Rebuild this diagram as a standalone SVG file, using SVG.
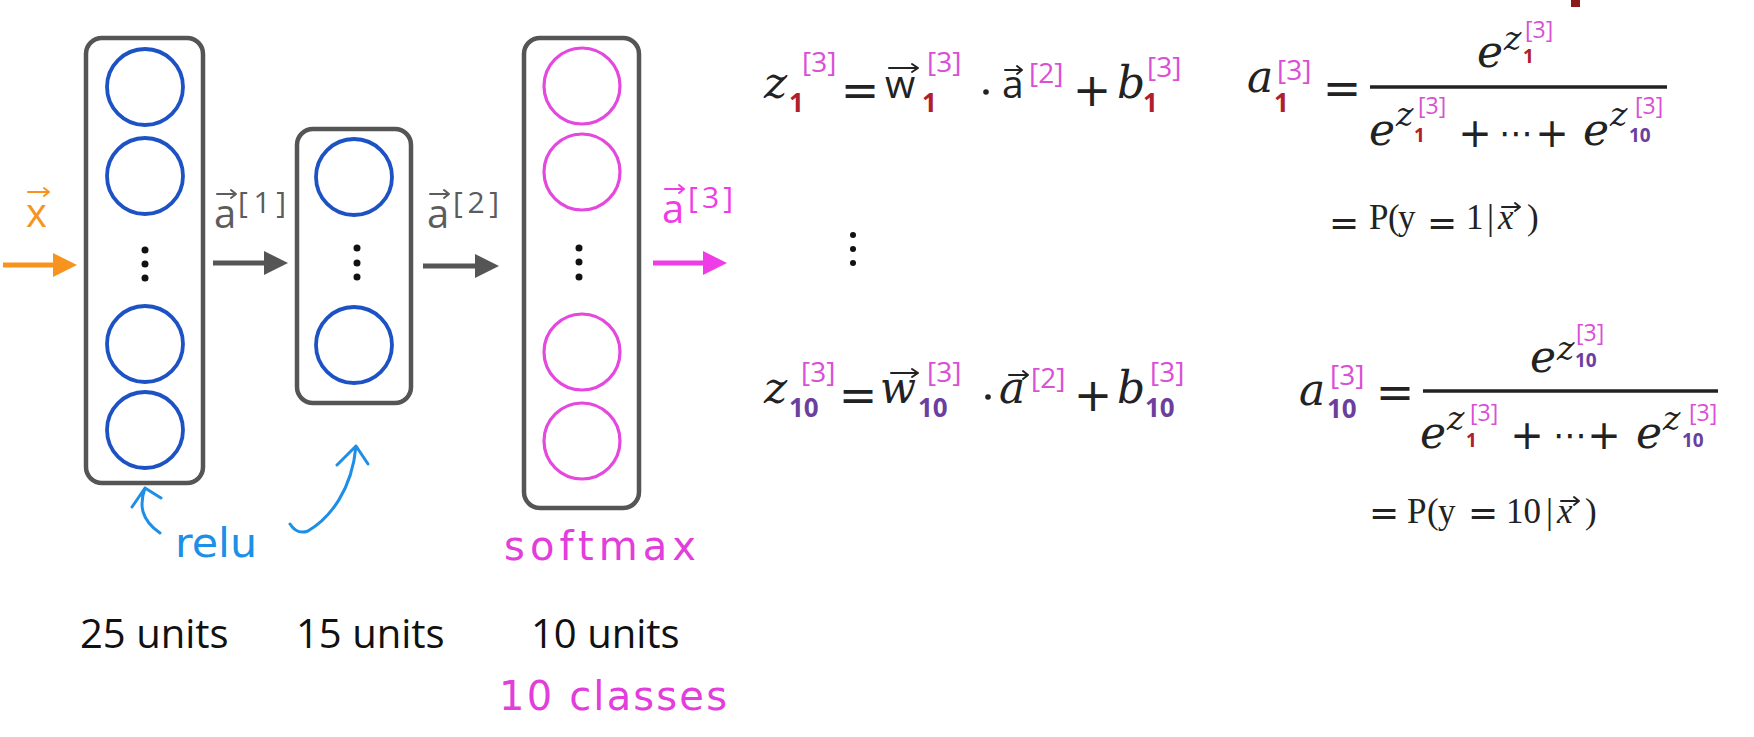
<svg xmlns="http://www.w3.org/2000/svg" width="1754" height="737" viewBox="0 0 1754 737">
<style>
.box{fill:#fff;stroke:#555;stroke-width:4.5}
.nb{fill:none;stroke:#1c52c4;stroke-width:3.8}
.np{fill:none;stroke:#e448df;stroke-width:3.2}
.dot{fill:#111}
.lbl{font-family:"Open Sans","Liberation Sans",sans-serif;font-size:40px}
.lsup{font-family:"Open Sans","Liberation Sans",sans-serif;font-size:30px}
.units{font-family:"Open Sans","Liberation Sans",sans-serif;font-size:40px;fill:#111}
.hand{font-family:"DejaVu Sans","Liberation Sans",sans-serif;font-size:40px}
.mi{font-family:"DejaVu Serif",serif;font-style:italic;font-size:44px;fill:#222}
.mis{font-family:"DejaVu Serif",serif;font-style:italic;font-size:33px;fill:#222}
.up{font-family:"Open Sans","Liberation Sans",sans-serif;font-size:39px;fill:#222}
.op{font-family:"DejaVu Sans",sans-serif;font-size:46px;fill:#222;text-anchor:middle;dominant-baseline:central}
.ops{font-family:"DejaVu Sans",sans-serif;font-size:40px;fill:#222;text-anchor:middle;dominant-baseline:central}
.dots{font-family:"DejaVu Sans",sans-serif;font-size:34px;fill:#222;text-anchor:middle;dominant-baseline:central}
.opp{font-family:"DejaVu Sans",sans-serif;font-size:36px;fill:#222;text-anchor:middle;dominant-baseline:central}
.sup{font-family:"Open Sans","Liberation Sans",sans-serif;font-size:28px;fill:#d94fd6}
.sups{font-family:"Open Sans","Liberation Sans",sans-serif;font-size:23px;fill:#d94fd6}
.sr{font-family:"Open Sans","Liberation Sans",sans-serif;font-weight:bold;font-size:26px;fill:#b0202a}
.sv{font-family:"Open Sans","Liberation Sans",sans-serif;font-weight:bold;font-size:26px;fill:#6b3f9e}
.srs{font-family:"Open Sans","Liberation Sans",sans-serif;font-weight:bold;font-size:19px;fill:#b0202a}
.svs{font-family:"Open Sans","Liberation Sans",sans-serif;font-weight:bold;font-size:19px;fill:#6b3f9e}
.pr{font-family:"Liberation Serif",serif;font-size:35px;fill:#222}
.vec{fill:none;stroke-width:2;stroke-linecap:round;stroke-linejoin:round}
.bar{stroke:#222;stroke-width:3.5}
</style>
<defs>
<marker id="hO" viewBox="0 0 24 24" refX="12" refY="12" markerWidth="24" markerHeight="24" markerUnits="userSpaceOnUse" orient="auto"><path d="M0,0 L24,12 L0,24 z" fill="#f7931e"/></marker>
<marker id="hG" viewBox="0 0 24 24" refX="12" refY="12" markerWidth="24" markerHeight="24" markerUnits="userSpaceOnUse" orient="auto"><path d="M0,0 L24,12 L0,24 z" fill="#555"/></marker>
<marker id="hP" viewBox="0 0 24 24" refX="12" refY="12" markerWidth="24" markerHeight="24" markerUnits="userSpaceOnUse" orient="auto"><path d="M0,0 L24,12 L0,24 z" fill="#f03ce6"/></marker>
</defs>
<rect width="1754" height="737" fill="#fff"/>

<g id="layer1">
<rect class="box" x="86" y="38" width="117" height="445" rx="16"/>
<circle class="nb" cx="145" cy="87" r="38"/>
<circle class="nb" cx="145" cy="176" r="38"/>
<circle class="dot" cx="145" cy="250" r="3.5"/>
<circle class="dot" cx="145" cy="264" r="3.5"/>
<circle class="dot" cx="145" cy="278" r="3.5"/>
<circle class="nb" cx="145" cy="344" r="38"/>
<circle class="nb" cx="145" cy="430" r="38"/>
</g>
<g id="layer2">
<rect class="box" x="297" y="129" width="114" height="274" rx="16"/>
<circle class="nb" cx="354" cy="177" r="38"/>
<circle class="dot" cx="357" cy="248" r="3.5"/>
<circle class="dot" cx="357" cy="263" r="3.5"/>
<circle class="dot" cx="357" cy="277" r="3.5"/>
<circle class="nb" cx="354" cy="345" r="38"/>
</g>
<g id="layer3">
<rect class="box" x="524" y="38" width="115" height="470" rx="16"/>
<circle class="np" cx="582" cy="86" r="38"/>
<circle class="np" cx="582" cy="172" r="38"/>
<circle class="dot" cx="579" cy="248" r="3.5"/>
<circle class="dot" cx="579" cy="262" r="3.5"/>
<circle class="dot" cx="579" cy="277" r="3.5"/>
<circle class="np" cx="582" cy="352" r="38"/>
<circle class="np" cx="582" cy="441" r="38"/>
</g>

<g id="connectors">
<line x1="3" y1="265" x2="65" y2="265" stroke="#f7931e" stroke-width="5" marker-end="url(#hO)"/>
<line x1="213" y1="263" x2="276" y2="263" stroke="#555" stroke-width="5" marker-end="url(#hG)"/>
<line x1="423" y1="266" x2="487" y2="266" stroke="#555" stroke-width="5" marker-end="url(#hG)"/>
<line x1="653" y1="263" x2="715" y2="263" stroke="#f03ce6" stroke-width="5" marker-end="url(#hP)"/>
<path d="M160,533 C141,520 139,505 145,488 M132,507 L145,488 L161,498" fill="none" stroke="#1e8fe6" stroke-width="3" stroke-linecap="round" stroke-linejoin="round"/>
<path d="M290,524 Q297,535 308,531 C330,518 352,490 356,446 M337,465 L356,446 L368,464" fill="none" stroke="#1e8fe6" stroke-width="3" stroke-linecap="round" stroke-linejoin="round"/>
</g>

<g id="labels">
<text class="lbl" x="26" y="227" fill="#f7931e">x</text>
<path class="vec" stroke="#f7931e" d="M28,192 L49,192 M44,188 L49,192 L44,196"/>
<text class="lbl" x="214" y="228" fill="#5c5c5c">a</text>
<text class="lsup" x="238" y="213" fill="#5c5c5c" textLength="48">[1]</text>
<path class="vec" stroke="#5c5c5c" d="M217,194 L236,194 M231,190 L236,194 L231,198"/>
<text class="lbl" x="427" y="228" fill="#5c5c5c">a</text>
<text class="lsup" x="453" y="213" fill="#5c5c5c" textLength="46">[2]</text>
<path class="vec" stroke="#5c5c5c" d="M430,194 L449,194 M444,190 L449,194 L444,198"/>
<text class="lbl" x="662" y="223" fill="#f03ce6">a</text>
<text class="lsup" x="688" y="208" fill="#f03ce6" textLength="45">[3]</text>
<path class="vec" stroke="#f03ce6" d="M665,189 L684,189 M679,185 L684,189 L679,193"/>
<text class="hand" x="175" y="557" fill="#1e8fe6" textLength="82" lengthAdjust="spacingAndGlyphs">relu</text>
<text class="hand" x="504" y="560" fill="#e33ddc" textLength="192">softmax</text>
<text class="hand" x="499" y="710" fill="#e33ddc" textLength="228">10 classes</text>
<text class="units" x="80" y="648">25 units</text>
<text class="units" x="296" y="648">15 units</text>
<text class="units" x="531" y="648">10 units</text>
</g>

<g id="eq-z1">
<text class="mi" x="764" y="98">z</text>
<text class="sup" x="802" y="72">[3]</text>
<text class="sr" x="789" y="112">1</text>
<text class="op" x="860" y="90">=</text>
<text class="up" x="885" y="98">w</text>
<path class="vec" stroke="#222" d="M889,68 L918,68 M912,64 L918,68 L912,72"/>
<text class="sup" x="927" y="72">[3]</text>
<text class="sr" x="922" y="112">1</text>
<circle cx="986" cy="92" r="2.8" fill="#222"/>
<text class="up" x="1002" y="98">a</text>
<path class="vec" stroke="#222" d="M1005,70 L1022,70 M1017,66 L1022,70 L1017,74"/>
<text class="sup" x="1029" y="83">[2]</text>
<text class="op" x="1092" y="90">+</text>
<text class="mi" x="1117" y="98">b</text>
<text class="sup" x="1147" y="77">[3]</text>
<text class="sr" x="1143" y="112">1</text>
</g>

<g id="eq-a1">
<text class="mi" x="1247" y="92">a</text>
<text class="sup" x="1277" y="80">[3]</text>
<text class="sr" x="1274" y="112">1</text>
<text class="op" x="1342" y="88">=</text>
<line class="bar" x1="1370" y1="87" x2="1667" y2="87"/>
<text class="mi" x="1477" y="67">e</text>
<text class="mis" x="1504" y="50">z</text>
<text class="srs" x="1523" y="63">1</text>
<text class="sups" x="1525" y="38">[3]</text>
<text class="mi" x="1369" y="145">e</text>
<text class="mis" x="1396" y="126">z</text>
<text class="srs" x="1414" y="142">1</text>
<text class="sups" x="1418" y="114">[3]</text>
<text class="ops" x="1475" y="133">+</text>
<text class="dots" x="1516" y="133">⋯</text>
<text class="ops" x="1552" y="133">+</text>
<text class="mi" x="1583" y="145">e</text>
<text class="mis" x="1610" y="126">z</text>
<text class="svs" x="1629" y="142">10</text>
<text class="sups" x="1635" y="114">[3]</text>
</g>

<g id="eq-p1">
<text class="opp" x="1344" y="222">=</text>
<text class="pr" y="229"><tspan x="1369">P</tspan><tspan x="1388">(</tspan><tspan x="1398">y</tspan></text>
<text class="opp" x="1442" y="222">=</text>
<text class="pr" y="229"><tspan x="1466">1</tspan><tspan x="1487">|</tspan></text>
<text class="pr" x="1498" y="229" font-style="italic">x</text>
<path class="vec" stroke="#222" d="M1502,207 L1520,207 M1515,203 L1520,207 L1515,211"/>
<text class="pr" x="1527" y="229">)</text>
</g>

<g id="vdots">
<circle class="dot" cx="853" cy="235" r="3"/>
<circle class="dot" cx="853" cy="249" r="3"/>
<circle class="dot" cx="853" cy="263" r="3"/>
</g>

<g id="eq-z10">
<text class="mi" x="764" y="403">z</text>
<text class="sup" x="801" y="382">[3]</text>
<text class="sv" x="789" y="417">10</text>
<text class="op" x="858" y="395">=</text>
<text class="mi" x="880" y="403" textLength="36" lengthAdjust="spacingAndGlyphs">w</text>
<path class="vec" stroke="#222" d="M891,373 L918,373 M912,369 L918,373 L912,377"/>
<text class="sup" x="927" y="382">[3]</text>
<text class="sv" x="918" y="417">10</text>
<circle cx="988" cy="397" r="2.8" fill="#222"/>
<text class="mi" x="999" y="403">a</text>
<path class="vec" stroke="#222" d="M1009,375 L1028,375 M1023,371 L1028,375 L1023,379"/>
<text class="sup" x="1031" y="388">[2]</text>
<text class="op" x="1093" y="395">+</text>
<text class="mi" x="1117" y="403">b</text>
<text class="sup" x="1150" y="382">[3]</text>
<text class="sv" x="1145" y="417">10</text>
</g>

<g id="eq-a10">
<text class="mi" x="1299" y="405">a</text>
<text class="sup" x="1330" y="385">[3]</text>
<text class="sv" x="1327" y="418">10</text>
<text class="op" x="1395" y="392">=</text>
<line class="bar" x1="1423" y1="391" x2="1718" y2="391"/>
<text class="mi" x="1530" y="372">e</text>
<text class="mis" x="1557" y="360">z</text>
<text class="svs" x="1575" y="367">10</text>
<text class="sups" x="1576" y="341">[3]</text>
<text class="mi" x="1420" y="448">e</text>
<text class="mis" x="1447" y="430">z</text>
<text class="srs" x="1466" y="447">1</text>
<text class="sups" x="1470" y="421">[3]</text>
<text class="ops" x="1527" y="435">+</text>
<text class="dots" x="1570" y="435">⋯</text>
<text class="ops" x="1604" y="435">+</text>
<text class="mi" x="1636" y="448">e</text>
<text class="mis" x="1663" y="430">z</text>
<text class="svs" x="1682" y="447">10</text>
<text class="sups" x="1689" y="421">[3]</text>
</g>

<g id="eq-p10">
<text class="opp" x="1384" y="512">=</text>
<text class="pr" y="523"><tspan x="1407">P</tspan><tspan x="1427">(</tspan><tspan x="1438">y</tspan></text>
<text class="opp" x="1483" y="512">=</text>
<text class="pr" y="523"><tspan x="1506">10</tspan><tspan x="1546">|</tspan></text>
<text class="pr" x="1557" y="523" font-style="italic">x</text>
<path class="vec" stroke="#222" d="M1561,501 L1579,501 M1574,497 L1579,501 L1574,505"/>
<text class="pr" x="1585" y="523">)</text>
</g>

<rect x="1571" y="0" width="9" height="7" fill="#8b1a1a"/>
</svg>
